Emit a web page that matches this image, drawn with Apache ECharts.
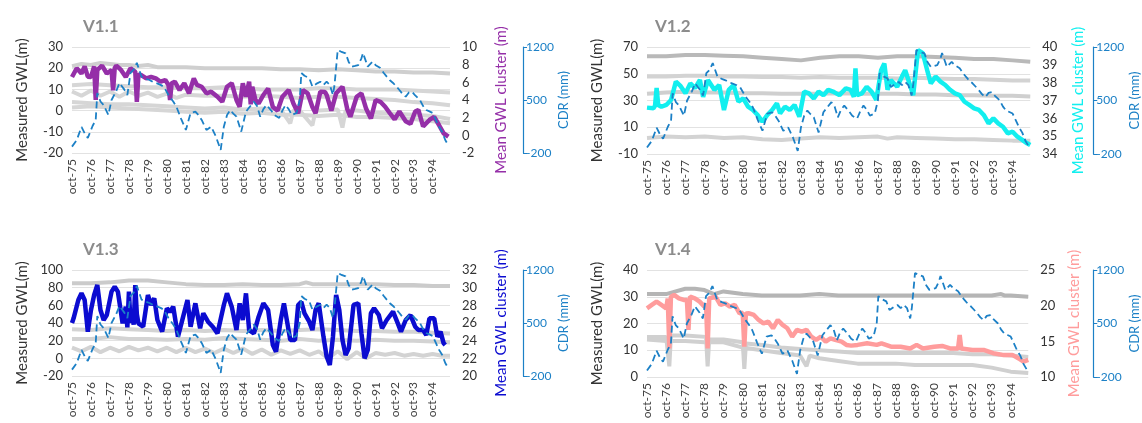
<!DOCTYPE html>
<html><head><meta charset="utf-8">
<script src="https://cdn.jsdelivr.net/npm/echarts@6/dist/echarts.min.js"></script>
<style>html,body{margin:0;padding:0;background:#fff}#c{width:1142px;height:423px}</style>
</head><body><div id="c"></div>
<script>
// x values are months since Oct-1975
const yearLabels = ['oct-75','oct-76','oct-77','oct-78','oct-79','oct-80','oct-81','oct-82','oct-83','oct-84','oct-85','oct-86','oct-87','oct-88','oct-89','oct-90','oct-91','oct-92','oct-93','oct-94'];
const panelTitles = ['V1.1','V1.2','V1.3','V1.4'];

// Cumulative deviation of rainfall (mm), shared by all panels
const cdr = [[0,-116],[3,-28],[6,144],[8,60],[10,-1],[13,157],[15,236],[16,593],[18,480],[20,434],[23,302],[25,500],[28,620],[30,725],[33,640],[35,566],[37,857],[39,900],[41,990],[44,808],[47,780],[49,764],[51,740],[53,725],[56,700],[58,676],[61,566],[64,480],[66,412],[69,250],[72,104],[75,329],[78,346],[80,300],[82,236],[85,104],[88,148],[91,16],[94,-160],[96,148],[98,300],[100,368],[102,320],[104,280],[107,82],[110,346],[112,400],[115,478],[117,420],[119,280],[121,380],[123,434],[126,360],[128,300],[131,263],[133,360],[135,434],[137,380],[139,302],[142,329],[144,500],[145,857],[147,820],[150,790],[152,676],[155,720],[157,742],[159,700],[161,742],[163,700],[165,566],[166,700],[168,1160],[170,1140],[173,1117],[175,1000],[177,940],[179,950],[181,962],[183,1050],[184,1120],[186,1000],[187,940],[190,1006],[192,960],[195,923],[197,860],[199,808],[201,760],[203,725],[205,680],[207,632],[209,580],[211,544],[213,600],[215,610],[217,560],[220,500],[222,420],[224,368],[226,350],[228,329],[230,240],[232,148],[234,80],[236,-28],[238,-100]];

// Mean GWL cluster (m)
const mean11 = [[0,6.6],[1,6.64],[3,7.6],[6,7.0],[8,7.8],[10,6.64],[12,6.6],[14,7.8],[15,4.0],[16,7.4],[19,7.9],[22,7.0],[25,7.4],[26,5.1],[27,7.6],[28,7.9],[31,7.4],[34,6.6],[37,7.6],[40,7.2],[41,3.8],[42,6.9],[44,6.8],[47,6.45],[50,6.6],[53,6.45],[56,6.07],[59,6.26],[61,5.7],[62,4.0],[63,5.9],[65,6.07],[68,5.13],[71,5.9],[74,4.76],[77,6.45],[79,5.7],[82,5.5],[85,4.76],[88,4.94],[92,4.37],[95,3.8],[98,5.5],[101,5.9],[104,4.0],[106,3.24],[108,5.9],[110,4.37],[112,6.07],[113,3.5],[114,5.5],[116,4.0],[118,3.6],[121,4.57],[124,5.3],[127,3.2],[130,2.8],[133,4.37],[137,5.13],[140,3.6],[143,2.5],[146,5.13],[149,4.76],[152,3.2],[154,2.5],[157,4.94],[160,4.9],[161,4.57],[164,2.8],[167,4.76],[171,5.5],[174,3.0],[176,2.1],[180,4.37],[183,4.76],[186,3.0],[189,1.9],[192,4.0],[195,3.8],[198,3.24],[201,2.5],[204,1.8],[207,2.7],[211,1.6],[214,1.3],[217,2.7],[219,2.87],[222,1.0],[226,1.74],[229,2.1],[232,1.17],[235,0.23],[238,-0.15]];
const mean12 = [[0,36.6],[1,36.65],[4,36.56],[5,36.7],[6,37.7],[7,36.75],[9,36.65],[12,36.75],[15,37.03],[18,38.06],[21,37.8],[24,37.4],[27,37.96],[30,37.7],[33,38.15],[35,37.2],[38,38.15],[42,37.6],[45,37.87],[48,36.47],[51,37.6],[54,37.87],[57,36.93],[60,37.12],[63,36.65],[66,36.47],[69,36.19],[72,35.81],[75,36.19],[78,36.47],[81,36.84],[83,36.28],[86,36.65],[89,36.47],[92,36.75],[95,36.09],[98,37.5],[101,37.4],[104,37.12],[107,37.5],[110,37.3],[113,37.6],[116,37.5],[118,37.4],[120,37.3],[124,37.68],[127,37.6],[129,37.2],[130,38.8],[131,37.3],[134,37.4],[137,37.77],[140,37.5],[143,37.03],[146,38.7],[148,39.08],[150,37.6],[152,38.15],[156,37.77],[159,38.34],[161,38.7],[163,38.15],[166,37.3],[169,39.83],[172,39.65],[175,38.6],[177,37.96],[180,38.34],[183,38.06],[186,37.87],[189,37.6],[192,37.4],[195,37.3],[198,36.93],[201,36.75],[204,36.56],[207,36.47],[210,36.19],[213,35.72],[216,36.0],[219,35.72],[222,35.53],[225,35.16],[228,35.25],[231,34.97],[234,34.79],[237,34.6],[239,34.5]];
const mean13 = [[0,26.0],[1,26.53],[4,28.6],[6,29.36],[8,28.6],[10,25.02],[12,27.47],[14,29.17],[16,30.3],[18,27.47],[20,26.34],[22,26.9],[25,29.55],[27,30.1],[29,29.55],[32,25.96],[34,27.85],[35,25.5],[36,29.55],[37,26.0],[38,27.1],[39,25.8],[40,30.3],[41,27.0],[42,25.96],[45,25.58],[48,29.17],[50,28.04],[52,28.8],[54,26.34],[57,25.02],[60,27.66],[62,27.28],[64,27.85],[67,24.45],[70,26.53],[73,28.6],[75,25.58],[78,28.23],[81,25.4],[83,27.1],[86,26.15],[89,25.58],[92,24.83],[96,28.04],[98,29.36],[101,27.85],[104,25.2],[106,28.23],[108,26.34],[110,29.36],[112,25.2],[115,24.83],[118,26.72],[121,28.23],[124,27.47],[127,23.5],[129,22.75],[132,26.34],[134,28.23],[136,26.15],[138,24.08],[141,24.08],[143,28.04],[145,28.4],[147,27.1],[150,26.15],[152,25.2],[154,27.47],[156,28.23],[159,24.45],[161,22.2],[163,21.25],[165,24.45],[167,29.17],[169,27.47],[171,24.08],[173,22.38],[175,23.14],[178,28.04],[181,28.23],[183,24.83],[185,22.0],[187,22.94],[189,27.1],[191,27.66],[194,26.9],[196,25.4],[199,26.34],[203,27.28],[206,25.96],[208,25.02],[211,26.34],[214,26.9],[217,25.58],[219,25.2],[222,25.2],[224,24.64],[226,26.53],[229,26.53],[231,24.45],[233,25.02],[235,23.7],[236,23.5]];
const mean14 = [[0,19.63],[3,20.1],[6,20.56],[9,20.1],[12,19.63],[13,21.0],[14,14.0],[15,21.26],[17,21.5],[20,21.03],[23,20.8],[25,20.8],[26,16.6],[27,21.26],[30,21.03],[33,20.56],[36,19.86],[37,20.3],[38,14.0],[39,21.0],[40,21.03],[43,21.26],[46,20.1],[49,20.33],[52,19.86],[55,20.1],[58,18.93],[60,19.0],[61,14.25],[62,18.9],[64,18.93],[67,18.7],[70,18.0],[73,17.53],[76,17.77],[79,16.83],[82,18.0],[85,17.3],[88,16.83],[91,15.65],[94,16.6],[97,16.35],[100,16.6],[103,15.65],[106,15.2],[109,15.65],[112,14.95],[115,15.42],[118,15.2],[122,14.95],[125,14.5],[128,14.4],[132,14.5],[138,14.72],[144,14.5],[147,14.72],[153,14.25],[159,14.25],[165,14.0],[169,14.5],[173,14.0],[180,14.25],[185,14.35],[190,14.0],[195,14.0],[196,15.9],[197,14.0],[204,13.8],[211,13.8],[217,13.33],[223,13.1],[229,13.1],[233,12.6],[236,12.15],[239,12.4]];

// Measured GWL (m) of individual wells
const gwl11a = [[0,21],[6,22],[12,21.5],[18,22.5],[24,22],[30,21.5],[36,21.5],[42,21],[48,21.5],[54,20.5],[60,20.5],[72,20.5],[84,20],[96,20],[108,20],[120,20],[132,19.5],[144,19.5],[156,19],[168,19.5],[180,19],[192,18.5],[204,18.5],[216,18],[228,18],[239,17.5]];
const gwl11b = [[0,12],[12,12.5],[24,12],[36,11.5],[48,11],[60,11],[72,10.5],[84,10.5],[96,11],[108,10.5],[120,10],[132,10],[144,10],[156,10.5],[168,10.5],[180,10],[192,10],[204,10],[216,9.5],[228,9],[239,8.5]];
const gwl11c = [[0,9],[6,7],[12,9.5],[18,7],[24,9],[30,6.5],[36,9],[42,7],[48,8.5],[54,6.5],[60,8],[66,6],[72,7.5],[84,7],[96,7],[108,6.5],[120,7],[132,6.5],[144,6],[156,6.5],[168,6.5],[180,6],[192,5.5],[204,5],[216,4],[228,3.5],[239,2.5]];
const gwl11d = [[0,4],[12,3.5],[24,3],[36,3],[48,2.5],[60,2],[72,1.5],[84,1],[96,1.5],[108,0.5],[120,1],[132,0.5],[138,-6],[140,0],[144,0],[152,-7],[154,0],[156,0],[168,0.5],[171,-8],[173,0],[180,0],[192,-1],[204,-1.5],[216,-2],[228,-2.5],[239,-4]];
const gwl11e = [[0,1.5],[12,2],[24,1.5],[36,1],[48,0.5],[60,0],[72,-0.5],[84,-1],[96,-0.5],[108,-1.5],[120,-1],[132,-2],[144,-2],[156,-2.5],[168,-2],[180,-3],[192,-3],[204,-3.5],[216,-4],[228,-5],[239,-6]];

const gwl12a = [[0,63],[12,63],[24,64],[36,64],[48,63.5],[60,63],[72,62],[84,61],[96,60],[108,62],[120,63],[132,63],[144,62],[156,63],[168,63],[180,62.5],[192,62],[204,61],[216,61],[228,60],[239,59]];
const gwl12b = [[0,48],[12,48],[24,48.5],[36,48.5],[48,48],[60,48],[72,47.5],[84,47.5],[96,47],[108,47.5],[120,47],[132,47],[144,47],[156,46.5],[168,47],[180,46.5],[192,46],[204,46],[216,45.5],[228,45],[239,45]];
const gwl12c = [[0,35],[12,36],[24,36.5],[36,36],[48,36],[60,35.5],[72,35.5],[84,35],[96,35],[108,35],[120,35.5],[132,35],[144,35],[156,35],[168,34.5],[180,34.5],[192,34],[204,34],[216,33.5],[228,33.5],[239,33]];
const gwl12d = [[0,2],[12,3],[24,2.5],[36,3],[48,2],[60,2.5],[72,1],[84,0.5],[96,1.5],[108,2.5],[120,2],[132,2.5],[144,3],[150,1.5],[156,2.5],[168,2],[180,1.5],[192,1],[204,1],[216,0.5],[228,0],[239,0]];

const gwl13a = [[0,85],[12,85],[24,86],[30,87],[36,88],[42,88],[48,88],[60,86],[72,84],[84,83],[96,83],[108,84],[120,83],[132,83],[144,84],[148,86],[152,84],[168,84],[180,84],[192,84],[204,83],[216,83],[228,82],[239,82]];
const gwl13b = [[0,33],[12,32],[24,34],[36,33],[48,32],[60,31],[72,32],[84,31],[96,32],[108,31],[120,32],[132,31],[144,32],[156,33],[168,32],[180,31],[192,31],[204,30],[216,30],[228,29],[239,28]];
const gwl13c = [[0,22],[12,22],[24,24],[36,22],[48,22],[60,21],[72,22],[84,21],[96,23],[108,22],[120,21],[132,20],[144,22],[156,20],[168,21],[180,20],[192,21],[204,20],[216,20],[228,19],[239,18]];
const gwl13d = [[0,12],[6,8],[12,13],[18,7],[24,12],[30,8],[36,13],[42,9],[48,12],[54,8],[60,12],[66,7],[72,12],[78,7],[84,11],[90,6],[96,11],[102,6],[108,11],[114,5],[120,10],[126,4],[132,9],[138,5],[144,9],[150,4],[156,8],[162,0],[168,8],[174,-1],[180,7],[186,0],[192,6],[198,4],[204,6],[210,3],[216,5],[222,3],[228,5],[234,3],[239,3]];

const gwl14a = [[0,31],[12,31],[18,32],[24,33],[30,33],[36,32.5],[42,31],[48,32],[54,31.5],[60,31],[72,30.5],[84,30.5],[96,30.5],[108,31],[120,30.5],[132,30.5],[144,30.5],[156,30.5],[168,30.5],[180,30.5],[192,30.5],[204,30.5],[216,30.5],[222,31],[224,30.5],[228,30.5],[239,30]];
const gwl14b = [[0,15],[12,15],[14,4],[15,15.5],[24,15.5],[37,15],[38,4],[39,14],[48,14],[60,13],[61,3],[62,12.5],[72,12],[84,11],[96,10.5],[108,10],[120,9.5],[132,9],[144,9],[156,9],[168,9],[180,9],[192,9],[204,8.5],[216,8.5],[228,8],[239,7.5]];
const gwl14c = [[0,14],[12,13.5],[24,13.5],[36,13],[48,13],[60,11],[72,10],[84,9],[96,8],[100,4],[102,8],[108,7],[120,6],[132,5],[144,5],[156,5],[168,4.5],[180,4.5],[192,4.5],[204,4.5],[216,3.5],[228,2],[239,1.5]];

const panels = [
  {title: panelTitles[0], tl:[78,13], grid:{left:72, top:47, width:378, height:106},
   lmin:-20, lmax:30, lint:10, rmin:-2, rmax:10, rint:2, color:'#952FA8', mean:mean11,
   greys:[[gwl11a,'#CFCFCF'],[gwl11b,'#D6D6D6'],[gwl11c,'#D6D6D6'],[gwl11d,'#D6D6D6'],[gwl11e,'#D6D6D6']], off:73, mgap:44},
  {title: panelTitles[1], tl:[650,13], grid:{left:647, top:47, width:388, height:107},
   lmin:-10, lmax:70, lint:20, rmin:34, rmax:40, rint:1, color:'#12EFEF', mean:mean12,
   greys:[[gwl12a,'#B9B9B9'],[gwl12b,'#D3D3D3'],[gwl12c,'#CFCFCF'],[gwl12d,'#D3D3D3']], off:63, mgap:40},
  {title: panelTitles[2], tl:[78,236], grid:{left:72, top:270, width:378, height:106},
   lmin:-20, lmax:100, lint:20, rmin:20, rmax:32, rint:2, color:'#0B0BD0', mean:mean13,
   greys:[[gwl13a,'#CBCBCB'],[gwl13b,'#D3D3D3'],[gwl13c,'#D3D3D3'],[gwl13d,'#D3D3D3']], off:73, mgap:44},
  {title: panelTitles[3], tl:[650,236], grid:{left:647, top:270, width:386, height:107},
   lmin:0, lmax:40, lint:10, rmin:10, rmax:25, rint:5, color:'#FF9C9C', mean:mean14,
   greys:[[gwl14a,'#B5B5B5'],[gwl14b,'#D0D0D0'],[gwl14c,'#D0D0D0']], off:65, mgap:38}
];

const FONT = 'Lato, "Open Sans", sans-serif';
const CDRC = '#1C80C6';
const option = {animation:false, textStyle:{fontFamily:FONT}, title:[], grid:[], xAxis:[], yAxis:[], series:[]};

panels.forEach((p, i) => {
  option.title.push({text:p.title, left:p.tl[0], top:p.tl[1], textStyle:{fontSize:17, fontWeight:'bold', color:'#8C8C8C', fontFamily:FONT}});
  option.grid.push(p.grid);
  option.xAxis.push({type:'value', gridIndex:i, min:0, max:239, interval:12,
    axisLine:{show:false}, axisTick:{show:false}, splitLine:{show:false},
    axisLabel:{rotate:90, fontSize:12, color:'#404040', margin:6, showMaxLabel:false,
      formatter: v => (v % 12 === 0 && v/12 < yearLabels.length) ? yearLabels[v/12] : ''}});
  option.yAxis.push({type:'value', gridIndex:i, position:'left', min:p.lmin, max:p.lmax, interval:p.lint,
    axisLine:{show:false}, axisTick:{show:false},
    splitLine:{show:true, lineStyle:{color:'#E2E2E2', width:1}},
    axisLabel:{fontSize:13, color:'#333', margin:9},
    name:'Measured GWL(m)', nameLocation:'middle', nameRotate:90, nameGap:42,
    nameTextStyle:{fontSize:15, color:'#333', fontFamily:FONT}});
  option.yAxis.push({type:'value', gridIndex:i, position:'right', min:p.rmin, max:p.rmax, interval:p.rint,
    axisLine:{show:false}, axisTick:{show:false}, splitLine:{show:false},
    axisLabel:{fontSize:13, color:'#333', margin:12},
    name:'Mean GWL cluster (m)', nameLocation:'middle', nameRotate:90, nameGap:p.mgap,
    nameTextStyle:{fontSize:15, color:p.color, fontFamily:FONT}});
  option.yAxis.push({type:'value', gridIndex:i, position:'right', offset:p.off, min:-200, max:1200, interval:700,
    axisLine:{show:true, lineStyle:{color:CDRC, width:1.2}}, axisTick:{show:true, length:4, lineStyle:{color:CDRC}},
    splitLine:{show:false},
    axisLabel:{fontSize:12, color:CDRC, margin:3, formatter: v => String(v)},
    name:'CDR (mm)', nameLocation:'middle', nameRotate:90, nameGap:27,
    nameTextStyle:{fontSize:13, color:CDRC, fontFamily:FONT}});
  p.greys.forEach(g => {
    option.series.push({type:'line', xAxisIndex:i, yAxisIndex:3*i, data:g[0], showSymbol:false, silent:true,
      lineStyle:{color:g[1], width:4}, z:1});
  });
  option.series.push({type:'line', xAxisIndex:i, yAxisIndex:3*i+1, data:p.mean, showSymbol:false, silent:true,
    lineStyle:{color:p.color, width:4.5}, z:2});
  option.series.push({type:'line', xAxisIndex:i, yAxisIndex:3*i+2, data:cdr, showSymbol:false, silent:true,
    lineStyle:{color:CDRC, width:1.8, type:[7,4]}, z:3});
});

const chart = echarts.init(document.getElementById('c'), null, {renderer:'canvas'});
chart.setOption(option);
</script></body></html>
